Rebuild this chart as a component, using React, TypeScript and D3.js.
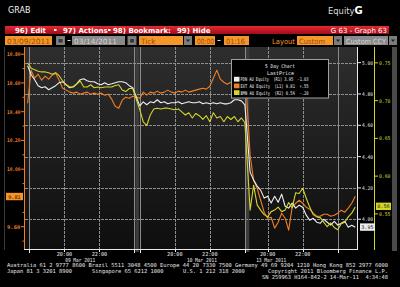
import React from "react";
import * as d3 from "d3";

// ---------------- data ----------------
const sessionDates = ["09 Mar 2011", "10 Mar 2011", "13 Mar 2011"];
const sessionOpen = [17.75, 17.95, 18.95];
const sessionClose = [24.05, 24.05, 25.1];
const firstSample = [17.9, 18.0, 19.0];
const sampleStep = 0.2; // hours between samples
const gridHours = [18, 20, 22, 24];
const labelHours = [20, 22];
const dateLabelHour = [20.9, 21.55, 20.2];

// PDN AU Equity (R1, white)
const pdnDay1 = [4.981, 4.923, 4.891, 4.853, 4.84, 4.846, 4.827, 4.84, 4.853, 4.872, 4.878, 4.859, 4.84, 4.846, 4.865, 4.891, 4.897, 4.885, 4.878, 4.878, 4.865, 4.859, 4.872, 4.859, 4.865, 4.872, 4.878, 4.878, 4.872, 4.853, 4.84];
const pdnDay2 = [4.724, 4.75, 4.731, 4.75, 4.744, 4.763, 4.744, 4.75, 4.737, 4.744, 4.744, 4.75, 4.737, 4.744, 4.75, 4.744, 4.744, 4.75, 4.737, 4.744, 4.737, 4.744, 4.737, 4.744, 4.737, 4.737, 4.744, 4.763, 4.763, 4.756, 4.731];
const pdnDay3 = [4.301, 4.25, 4.212, 4.186, 4.135, 4.147, 4.103, 4.147, 4.109, 4.16, 4.083, 4.071, 4.103, 4.071, 4.09, 4.077, 4.026, 3.994, 4.006, 3.981, 3.974, 4.0, 3.981, 3.962, 3.987, 3.962, 3.974, 3.987, 3.949, 3.962, 3.949];

// EXT AU Equity (L1, orange)
const extDay1 = [10.459, 10.689, 10.633, 10.661, 10.619, 10.647, 10.626, 10.654, 10.668, 10.619, 10.563, 10.55, 10.536, 10.529, 10.536, 10.522, 10.529, 10.536, 10.522, 10.529, 10.522, 10.529, 10.515, 10.522, 10.487, 10.438, 10.424, 10.48, 10.501, 10.494, 10.508];
const extDay2 = [10.494, 10.536, 10.515, 10.536, 10.529, 10.543, 10.529, 10.536, 10.55, 10.536, 10.529, 10.543, 10.536, 10.55, 10.536, 10.543, 10.55, 10.557, 10.563, 10.557, 10.577, 10.633, 10.689, 10.626, 10.605, 10.591, 10.605, 10.584, 10.612, 10.633, 10.717];
const extDay3 = [10.097, 9.923, 9.868, 9.784, 9.701, 9.659, 9.666, 9.59, 9.631, 9.694, 9.659, 9.576, 9.736, 9.763, 9.784, 9.763, 9.736, 9.722, 9.694, 9.673, 9.673, 9.687, 9.687, 9.673, 9.68, 9.694, 9.715, 9.701, 9.729, 9.763, 9.812];

// BMN AU Equity (R2, yellow)
const bmnDay1 = [0.75, 0.743, 0.741, 0.739, 0.738, 0.738, 0.737, 0.735, 0.737, 0.733, 0.726, 0.721, 0.718, 0.718, 0.722, 0.726, 0.718, 0.718, 0.721, 0.717, 0.718, 0.717, 0.718, 0.718, 0.718, 0.72, 0.721, 0.714, 0.712, 0.716, 0.716];
const bmnDay2 = [0.688, 0.672, 0.667, 0.681, 0.689, 0.69, 0.689, 0.69, 0.69, 0.689, 0.688, 0.689, 0.685, 0.681, 0.684, 0.677, 0.683, 0.68, 0.675, 0.68, 0.672, 0.684, 0.677, 0.679, 0.672, 0.679, 0.675, 0.679, 0.672, 0.677, 0.671];
const bmnDay3 = [0.555, 0.588, 0.562, 0.555, 0.549, 0.546, 0.553, 0.555, 0.559, 0.553, 0.555, 0.565, 0.558, 0.578, 0.577, 0.584, 0.571, 0.559, 0.549, 0.546, 0.545, 0.539, 0.533, 0.538, 0.532, 0.529, 0.537, 0.539, 0.546, 0.551, 0.559];

const extTicks = [10.8, 10.6, 10.4, 10.2, 10.0, 9.6];
const extMinorTicks = [10.7, 10.5, 10.3, 10.1, 9.9, 9.7, 9.5];
const pdnTicks = [5.0, 4.8, 4.6, 4.4, 4.2, 4.0];
const bmnTicks = [0.75, 0.7, 0.65, 0.6, 0.55];

const legendNames = ["PDN AU Equity", "EXT AU Equity", "BMN AU Equity"];
const legendAxes = ["(R1)", "(L1)", "(R2)"];
const legendLast = ["3.95", "9.81", "0.56"];
const legendChange = ["-1.03", "+.55", "-.20"];

// ---------------- styling ----------------
const SANS = "'DejaVu Sans', 'Liberation Sans', sans-serif";
const MONO = "'DejaVu Sans Mono', 'Liberation Mono', monospace";
const ORANGE = "#ee7f24";
const BOX_ORANGE = "#f5962a";
const WHITE = "#efefef";
const YELLOW = "#d4d42c";
const GRID = "#8e8e8e";

export default function App() {
  const PL = 25, PR = 357, PT = 47, PB = 249;
  const GAP = 0.2;
  const offsets: number[] = [];
  let acc = 0;
  sessionOpen.forEach((o, i) => {
    offsets.push(acc);
    acc += sessionClose[i] - o + GAP;
  });
  const total = acc - GAP;
  const x = d3.scaleLinear().domain([0, total]).range([PL, PR]);
  const xAt = (s: number, h: number) => x(offsets[s] + h - sessionOpen[s]);

  const yExt = d3.scaleLinear().domain([9.445, 10.85]).range([PB, PT]);
  const yPdn = d3.scaleLinear().domain([3.81, 5.1]).range([PB, PT]);
  const yBmn = d3.scaleLinear().domain([0.5035, 0.771]).range([PB, PT]);

  const toPts = (days: number[][], y: d3.ScaleLinear<number, number>) =>
    days.flatMap((vals, s) =>
      vals.map((v, i) => [xAt(s, firstSample[s] + i * sampleStep), y(v)] as [number, number])
    );
  const line = d3.line<[number, number]>();

  const pdnPath = line(toPts([pdnDay1, pdnDay2, pdnDay3], yPdn)) || "";
  const extPath = line(toPts([extDay1, extDay2, extDay3], yExt)) || "";
  const bmnPath = line(toPts([bmnDay1, bmnDay2, bmnDay3], yBmn)) || "";

  const vGrid: { x: number; major: boolean }[] = [];
  const labelTicks: { x: number; label: string }[] = [];
  sessionOpen.forEach((o, s) => {
    gridHours.forEach((h) => {
      if (h >= o - 0.001 && h <= sessionClose[s] + 0.001) vGrid.push({ x: xAt(s, h), major: h === 18 || h === 24 });
    });
    labelHours.forEach((h) => labelTicks.push({ x: xAt(s, h), label: `${h}:00` }));
  });

  const gaps = sessionOpen.slice(1).map((o, i) => ({
    x0: xAt(i, sessionClose[i]),
    x1: xAt(i + 1, o),
  }));

  const fmt2 = d3.format(".2f");

  const Btn = ({ bx }: { bx: number }) => (
    <g>
      <rect x={bx} y={36} width={9} height={9} fill="#7a7a7a" />
      <rect x={bx + 2} y={38.5} width={5} height={4.5} fill="#3a3a3a" stroke="#aaa" strokeWidth={0.5} />
    </g>
  );
  const Drop = ({ bx }: { bx: number }) => (
    <g>
      <rect x={bx} y={36} width={8} height={9} fill="#7c7c7c" />
      <path d={`M${bx + 2},${39.5} L${bx + 6},${39.5} L${bx + 4},${42} Z`} fill="#222" />
    </g>
  );
  const OBox = ({ bx, w, label, tl }: { bx: number; w: number; label: string; tl?: number }) => (
    <g>
      <rect x={bx} y={36} width={w} height={9} fill={BOX_ORANGE} />
      <text x={bx + 2} y={43.5} fontFamily={SANS} fontSize={7.3} fill="#9a4a06" textLength={tl} lengthAdjust="spacingAndGlyphs">
        {label}
      </text>
    </g>
  );
  const GBox = ({ bx, w, label, tl }: { bx: number; w: number; label: string; tl?: number }) => (
    <g>
      <rect x={bx} y={36} width={w} height={9} fill="#8a8a8a" />
      <text x={bx + 2} y={43.5} fontFamily={SANS} fontSize={7.3} fill="#d2d2d2" textLength={tl} lengthAdjust="spacingAndGlyphs">
        {label}
      </text>
    </g>
  );

  const legendColors = [WHITE, ORANGE, YELLOW];

  return (
    <svg
      width={400}
      height={287}
      viewBox="0 0 400 287"
      style={{ position: "absolute", left: 0, top: 0, display: "block" }}
    >
      <defs>
        <linearGradient id="bg" x1="0" y1="0" x2="0" y2="1">
          <stop offset="0" stopColor="#2e2e2e" />
          <stop offset="1" stopColor="#0e0e0e" />
        </linearGradient>
        <linearGradient id="red" x1="0" y1="0" x2="0" y2="1">
          <stop offset="0" stopColor="#e52a34" />
          <stop offset="1" stopColor="#a10c16" />
        </linearGradient>
      </defs>
      <rect x={0} y={0} width={400} height={287} fill="#000" />

      {/* top header */}
      <text x={8} y={13} fontFamily={SANS} fontSize={8} fill="#f4f4f4">GRAB</text>
      <text x={328} y={14} fontFamily={SANS} fontSize={8.4} fill="#dcdcdc">
        Equity<tspan fontWeight="bold" fontSize={10} fill="#fff">G</tspan>
      </text>

      {/* red menu bar */}
      <rect x={5} y={26} width={384} height={8} fill="url(#red)" />
      <g fontFamily={SANS} fontSize={7} fontWeight="bold" fill="#fff">
        <text x={15} y={32.6}>96) Edit</text>
        <rect x={54} y={29} width={2.5} height={2} fill="#fff" />
        <text x={63} y={32.6}>97) Actions</text>
        <rect x={108} y={29} width={2.5} height={2} fill="#fff" />
        <text x={113} y={32.6}>98) Bookmark:</text>
        <text x={177} y={32.6}>99) Hide</text>
        <text x={387} y={32.6} textAnchor="end" fontWeight="normal">G 63 - Graph 63</text>
      </g>

      {/* option row */}
      <OBox bx={5} w={47} label="03/09/2011" tl={43} />
      <Btn bx={56} />
      <rect x={67.5} y={40} width={3} height={1} fill="#ddd" />
      <GBox bx={72} w={53} label="03/14/2011" tl={43} />
      <Btn bx={127.5} />
      <OBox bx={139} w={44} label="Tick" />
      <Drop bx={184} />
      <OBox bx={195} w={20} label="00:00" tl={17} />
      <rect x={217.5} y={40} width={3} height={1} fill="#ddd" />
      <OBox bx={224} w={25} label="01:16" tl={19} />
      <text x={272} y={43.5} fontFamily={SANS} fontSize={7.3} fill={BOX_ORANGE} textLength={23} lengthAdjust="spacingAndGlyphs">Layout</text>
      <OBox bx={297} w={36} label="Custom" tl={26} />
      <Drop bx={334} />
      <GBox bx={344} w={44} label="Custom CCY" tl={40} />
      <Drop bx={389} />

      {/* plot background */}
      <rect x={PL} y={PT} width={PR - PL} height={PB - PT} fill="url(#bg)" />
      {gaps.map((g, i) => (
        <rect key={i} x={g.x0} y={PT} width={g.x1 - g.x0} height={PB - PT + 3} fill="#3c3c3c" />
      ))}

      {/* grid */}
      <g shapeRendering="crispEdges">
        {pdnTicks.map((t) => (
          <line key={t} x1={PL} x2={PR} y1={Math.round(yPdn(t)) + 0.5} y2={Math.round(yPdn(t)) + 0.5} stroke={GRID} strokeWidth={1} strokeDasharray="3,1" />
        ))}
        {vGrid.map((g, i) => (
          <line key={i} x1={Math.round(g.x) + 0.5} x2={Math.round(g.x) + 0.5} y1={PT} y2={PB} stroke={g.major ? "#8a8a8a" : GRID} strokeWidth={1} strokeDasharray={g.major ? undefined : "3,1"} />
        ))}
      </g>

      {/* series */}
      <path d={extPath} fill="none" stroke={ORANGE} strokeWidth={1.1} strokeLinejoin="round" />
      <path d={pdnPath} fill="none" stroke={WHITE} strokeWidth={1.1} strokeLinejoin="round" />
      <path d={bmnPath} fill="none" stroke={YELLOW} strokeWidth={1.1} strokeLinejoin="round" />

      {/* axes */}
      <line x1={4.5} x2={4.5} y1={PT} y2={PB + 1} stroke="#3a3a3a" />
      <line x1={PL - 0.5} x2={PL - 0.5} y1={PT} y2={PB + 1} stroke={ORANGE} />
      <line x1={PR + 0.5} x2={PR + 0.5} y1={PT} y2={PB + 1} stroke="#e8e8e8" />
      <line x1={374.5} x2={374.5} y1={PT} y2={PB + 1} stroke={YELLOW} />
      <line x1={PL - 1} x2={PR + 1} y1={PB + 0.5} y2={PB + 0.5} stroke="#e8e8e8" />

      {/* left axis (EXT) */}
      <g fontFamily={MONO} fontSize={5.2} fill={ORANGE} fontWeight="bold">
        {extTicks.map((t) => (
          <g key={t}>
            <line x1={21} x2={PL - 1} y1={yExt(t)} y2={yExt(t)} stroke={ORANGE} />
            <text x={20.5} y={yExt(t) + 1.9} textAnchor="end" textLength={13.5} lengthAdjust="spacingAndGlyphs">{fmt2(t)}</text>
          </g>
        ))}
        {extMinorTicks.map((t) => (
          <line key={t} x1={22.5} x2={PL - 1} y1={yExt(t)} y2={yExt(t)} stroke={ORANGE} />
        ))}
      </g>
      <rect x={6} y={yExt(9.81) - 3.7} width={17} height={7.4} fill={BOX_ORANGE} />
      <text x={14.5} y={yExt(9.81) + 2} textAnchor="middle" fontFamily={MONO} fontSize={5.2} fill="#7a3300" fontWeight="bold">9.81</text>

      {/* right axis R1 (PDN) */}
      <g fontFamily={MONO} fontSize={5.2} fill="#e8e8e8">
        {pdnTicks.map((t) => (
          <g key={t}>
            <line x1={PR + 1} x2={PR + 4} y1={yPdn(t)} y2={yPdn(t)} stroke="#e8e8e8" />
            <text x={PR + 5} y={yPdn(t) + 1.9} textLength={11} lengthAdjust="spacingAndGlyphs">{fmt2(t)}</text>
          </g>
        ))}
      </g>
      <rect x={PR + 3} y={yPdn(3.95) - 3.7} width={15} height={7.4} fill="#eeeeee" />
      <text x={PR + 10.5} y={yPdn(3.95) + 2} textAnchor="middle" fontFamily={MONO} fontSize={5.2} fill="#222">3.95</text>

      {/* right axis R2 (BMN) */}
      <g fontFamily={MONO} fontSize={5.2} fill={YELLOW}>
        {bmnTicks.map((t) => (
          <g key={t}>
            <line x1={375} x2={378} y1={yBmn(t)} y2={yBmn(t)} stroke={YELLOW} />
            <text x={379} y={yBmn(t) + 1.9} textLength={11.5} lengthAdjust="spacingAndGlyphs">{fmt2(t)}</text>
          </g>
        ))}
      </g>
      <rect x={376} y={yBmn(0.56) - 3.7} width={15} height={7.4} fill={YELLOW} />
      <text x={383.5} y={yBmn(0.56) + 2} textAnchor="middle" fontFamily={MONO} fontSize={5.2} fill="#222">0.56</text>

      {/* scrollbar */}
      <rect x={392} y={PT} width={5} height={PB - PT + 2} fill="#4a4a4a" />

      {/* x axis ticks and labels */}
      <g stroke="#e8e8e8" shapeRendering="crispEdges">
        {vGrid.map((g, i) => (
          <line key={i} x1={Math.round(g.x) + 0.5} x2={Math.round(g.x) + 0.5} y1={PB} y2={PB + (g.major ? 4 : 2.5)} />
        ))}
      </g>
      <g fontFamily={MONO} fontSize={5.4} fill="#ececec">
        {labelTicks.map((t, i) => (
          <text key={i} x={t.x} y={256} textAnchor="middle" textLength={15.5} lengthAdjust="spacingAndGlyphs">{t.label}</text>
        ))}
        {sessionDates.map((d, s) => (
          <text key={d} x={xAt(s, dateLabelHour[s])} y={261.5} textAnchor="middle" textLength={30} lengthAdjust="spacingAndGlyphs">{d}</text>
        ))}
      </g>

      {/* legend */}
      <rect x={231.5} y={59.5} width={97} height={38.5} fill="#000" stroke="#a0a0a0" strokeWidth={1} />
      <g fontFamily={MONO} fontSize={5.2} fill="#f0f0f0">
        <text x={280} y={68.3} textAnchor="middle" textLength={30} lengthAdjust="spacingAndGlyphs">5 Day Chart</text>
        <text x={280.5} y={74.6} textAnchor="middle" textLength={27} lengthAdjust="spacingAndGlyphs">LastPrice</text>
        {legendNames.map((n, i) => (
          <g key={n}>
            <rect x={234} y={76.8 + i * 6.7} width={5.5} height={4.8} fill={legendColors[i]} />
            <text x={240.5} y={81.3 + i * 6.7} textLength={68} lengthAdjust="spacingAndGlyphs" xmlSpace="preserve">
              {`${n}  ${legendAxes[i]} ${legendLast[i]}  ${legendChange[i]}`}
            </text>
          </g>
        ))}
      </g>

      {/* footer */}
      <g fontFamily={MONO} fontSize={5.4} fill="#e6e6e6">
        <text x={7} y={267} textLength={381} lengthAdjust="spacingAndGlyphs">
          Australia 61 2 9777 8600 Brazil 5511 3048 4500 Europe 44 20 7330 7500 Germany 49 69 9204 1210 Hong Kong 852 2977 6000
        </text>
        <text x={7} y={273.3}>Japan 81 3 3201 8900</text>
        <text x={92} y={273.3}>Singapore 65 6212 1000</text>
        <text x={183} y={273.3}>U.S. 1 212 318 2000</text>
        <text x={388} y={273.3} textAnchor="end" textLength={120} lengthAdjust="spacingAndGlyphs">Copyright 2011 Bloomberg Finance L.P.</text>
        <text x={388} y={278.8} textAnchor="end" textLength={126} lengthAdjust="spacingAndGlyphs" xmlSpace="preserve">SN 259963 H164-842-2 14-Mar-11  4:34:48</text>
      </g>
    </svg>
  );
}
